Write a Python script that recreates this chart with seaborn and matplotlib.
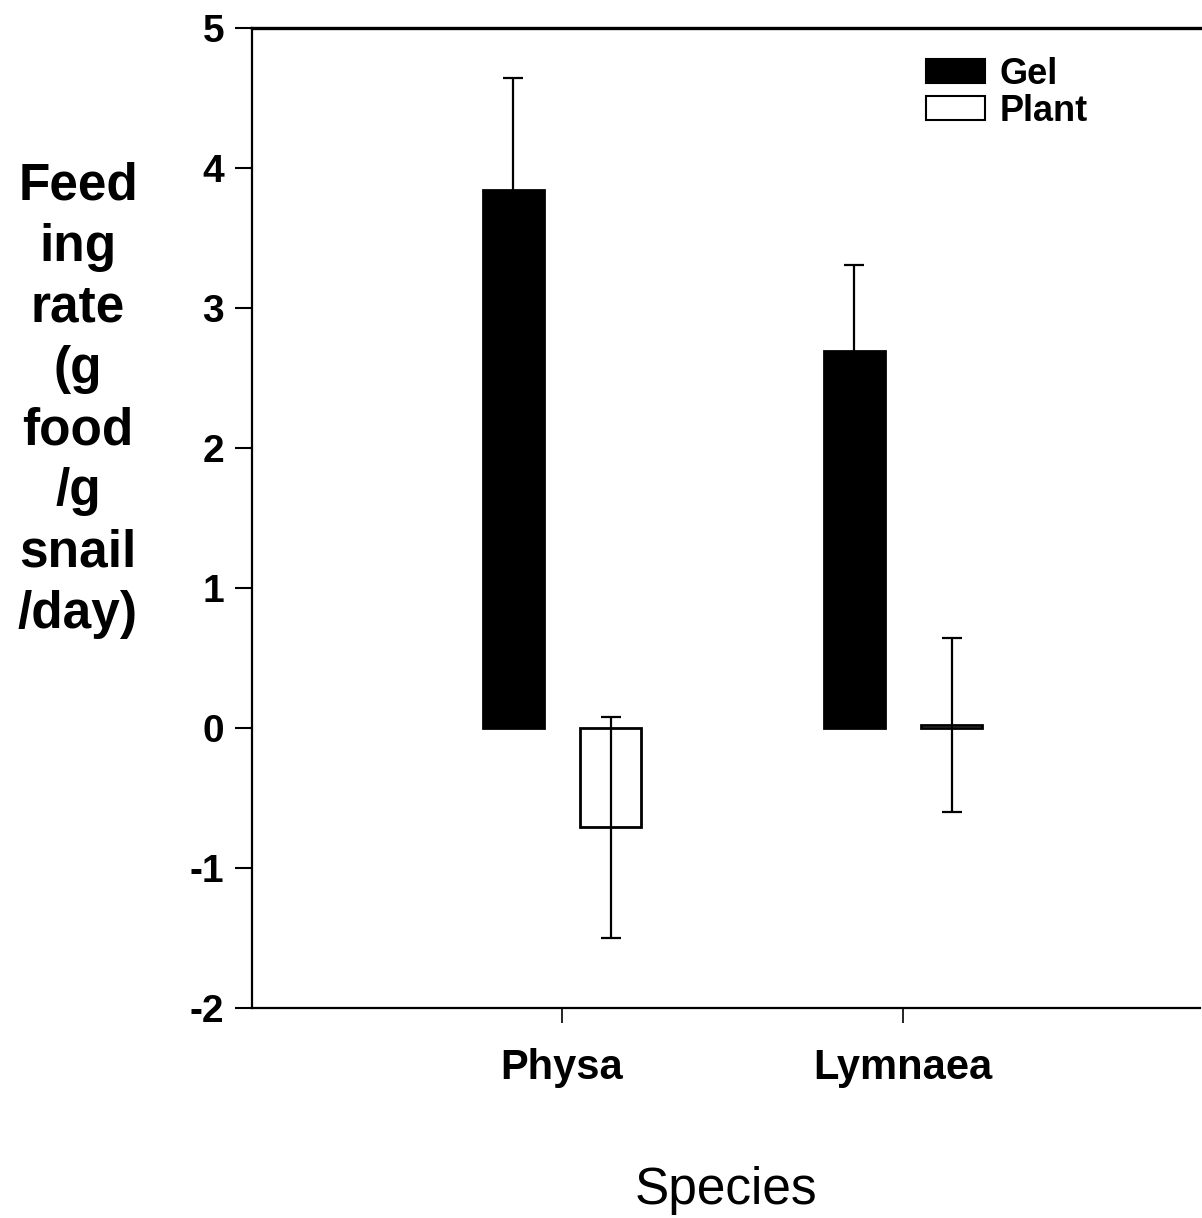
import matplotlib
matplotlib.use("Agg")
import matplotlib.pyplot as plt
import pandas as pd
import seaborn as sns

# Data
species = ['Physa', 'Lymnaea']
food = ['Gel', 'Plant']
gel_rate = [3.84, 2.69]
plant_rate = [-0.71, 0.02]
gel_err = [0.80, 0.62]
plant_err = [0.79, 0.62]
y_ticks = [-2, -1, 0, 1, 2, 3, 4, 5]

df = pd.DataFrame({
    'species': species * 2,
    'food': ['Gel'] * 2 + ['Plant'] * 2,
    'rate': gel_rate + plant_rate,
    'err': gel_err + plant_err,
})

sns.set_style('ticks')
plt.rcParams['font.family'] = ['Liberation Sans', 'DejaVu Sans']
plt.rcParams['text.color'] = 'black'
plt.rcParams['xtick.color'] = 'black'
plt.rcParams['ytick.color'] = 'black'
plt.rcParams['axes.labelcolor'] = 'black'

fig = plt.figure(figsize=(12.02, 12.18), dpi=100)
ax = fig.add_axes([252 / 1202, 1 - 1008 / 1218, 948 / 1202, 980 / 1218])

sns.barplot(data=df, x='species', y='rate', hue='food', order=species,
            hue_order=food, palette=['black', 'white'], errorbar=None,
            width=0.57, gap=0.37, edgecolor='black', linewidth=2, ax=ax)

# error bars placed at the bar centres seaborn computed
for cont, fd in zip(ax.containers, food):
    sub = df[df['food'] == fd].set_index('species').loc[species]
    xs = [b.get_x() + b.get_width() / 2 for b in cont]
    ax.errorbar(xs, sub['rate'], yerr=sub['err'], fmt='none', ecolor='black',
                elinewidth=1.6, capsize=7, capthick=1.6, zorder=1 if fd == 'Gel' else 3)

ax.set_xlim(-0.909, 1.871)
ax.set_ylim(-2, 5)
ax.set_yticks(y_ticks)
ax.set_yticklabels([str(t) for t in y_ticks], fontsize=28, fontweight='bold')
ax.set_xticks(range(len(species)))
ax.set_xticklabels(species, fontsize=30, fontweight='bold')
ax.tick_params(axis='y', direction='out', length=12, width=1.5, pad=8)
ax.tick_params(axis='x', direction='out', length=11, width=1.2, pad=18)

for s in ['left', 'bottom', 'top']:
    ax.spines[s].set_visible(True)
    ax.spines[s].set_linewidth(1.6)
    ax.spines[s].set_color('black')
ax.spines['top'].set_linewidth(2.4)
ax.spines['right'].set_visible(False)

ax.set_ylabel('')
ax.set_xlabel('Species', fontsize=37, labelpad=56)

fig.text(78 / 1202, 1 - 400 / 1218,
         'Feed\ning\nrate\n(g\nfood\n/g\nsnail\n/day)',
         fontsize=37, fontweight='bold', ha='center', va='center',
         multialignment='center', linespacing=1.32)

leg = ax.legend(loc='upper left', bbox_to_anchor=(926 / 1202, 1 - 57 / 1218),
                bbox_transform=fig.transFigure, frameon=False, borderpad=0,
                borderaxespad=0, handlelength=1.63, handleheight=0.65,
                handletextpad=0.4, labelspacing=0.05,
                prop={'size': 26, 'weight': 'bold'})
for h in leg.legend_handles:
    h.set_edgecolor('black')
    h.set_linewidth(1.5)

fig.savefig('out.png', dpi=100, facecolor='white')
